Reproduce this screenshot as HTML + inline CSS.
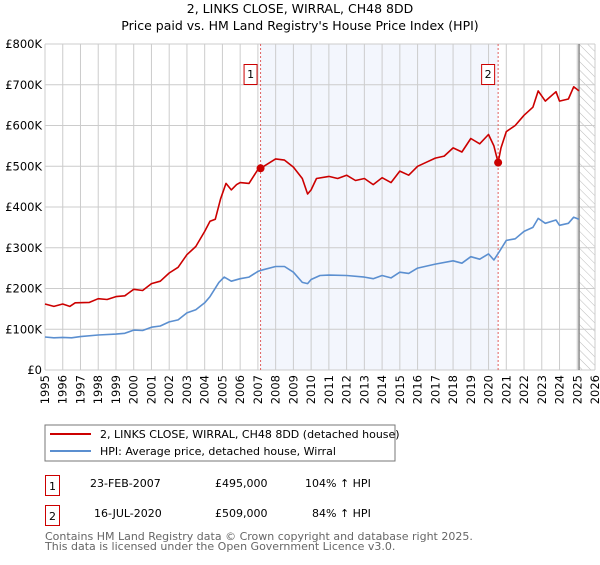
<!DOCTYPE html>
<html><head><meta charset="utf-8"><style>
body{margin:0;background:#fff;font-family:"Liberation Sans","DejaVu Sans",sans-serif;}
svg text{font-family:"DejaVu Sans","Liberation Sans",sans-serif;}
</style></head><body>
<svg id="chart" width="600" height="560" xmlns="http://www.w3.org/2000/svg">
<text x="300" y="13" font-size="12.5" text-anchor="middle">2, LINKS CLOSE, WIRRAL, CH48 8DD</text>
<text x="300" y="30" font-size="12.5" text-anchor="middle">Price paid vs. HM Land Registry's House Price Index (HPI)</text>
<defs><pattern id="hatch" width="6" height="6" patternUnits="userSpaceOnUse" patternTransform="rotate(-45)"><line x1="0" y1="0" x2="0" y2="6" stroke="#bbb" stroke-width="1"/></pattern></defs>
<g id="grid"></g><g id="marks"></g><g id="axes"></g>
<rect x="45" y="425" width="350" height="36" fill="#fff" stroke="#777"/>
<line x1="50" y1="434" x2="91" y2="434" stroke="#cc0000" stroke-width="2"/>
<text x="100" y="438" font-size="11">2, LINKS CLOSE, WIRRAL, CH48 8DD (detached house)</text>
<line x1="50" y1="451" x2="91" y2="451" stroke="#5b8fd0" stroke-width="2"/>
<text x="100" y="455" font-size="11">HPI: Average price, detached house, Wirral</text>
<g font-size="11">
<rect x="45.5" y="475.5" width="14" height="20" fill="#fff" stroke="#cc0000"/><text x="52.5" y="490" text-anchor="middle">1</text>
<text x="90" y="487">23-FEB-2007</text><text x="215" y="487">£495,000</text><text x="305" y="487">104% ↑ HPI</text></g>
<g font-size="11">
<rect x="45.5" y="505.5" width="14" height="20" fill="#fff" stroke="#cc0000"/><text x="52.5" y="520" text-anchor="middle">2</text>
<text x="94" y="517">16-JUL-2020</text><text x="215" y="517">£509,000</text><text x="312" y="517">84% ↑ HPI</text></g>
<text x="45" y="540" font-size="11" fill="#666">Contains HM Land Registry data © Crown copyright and database right 2025.</text>
<text x="45" y="550" font-size="11" fill="#666">This data is licensed under the Open Government Licence v3.0.</text>
</svg>
<script>
const yTicks=[0,100,200,300,400,500,600,700,800];
const yTickLabels=["£0","£100K","£200K","£300K","£400K","£500K","£600K","£700K","£800K"];
const xYears=[1995,1996,1997,1998,1999,2000,2001,2002,2003,2004,2005,2006,2007,2008,2009,2010,2011,2012,2013,2014,2015,2016,2017,2018,2019,2020,2021,2022,2023,2024,2025,2026];
const hpiYears=[1995,1995.5,1996,1996.5,1997,1998,1999,1999.5,2000,2000.5,2001,2001.5,2002,2002.5,2003,2003.5,2004,2004.3,2004.8,2005.1,2005.5,2006,2006.5,2007,2007.2,2008,2008.5,2009,2009.5,2009.8,2010,2010.5,2011,2012,2013,2013.5,2014,2014.5,2015,2015.5,2016,2017,2018,2018.5,2019,2019.5,2020,2020.3,2020.6,2021,2021.5,2022,2022.5,2022.8,2023.2,2023.8,2024,2024.5,2024.8,2025.1];
const hpiValues=[81,79,80,79,82,86,88,90,98,97,105,108,118,123,140,148,165,180,215,228,218,224,228,242,245,254,254,240,215,212,222,232,233,232,228,224,232,226,240,237,250,260,268,262,278,272,285,270,290,318,322,340,350,372,360,368,355,360,375,370];
const propYears=[1995,1995.5,1996,1996.4,1996.7,1997.5,1998,1998.5,1999,1999.5,2000,2000.5,2001,2001.5,2002,2002.5,2003,2003.5,2004,2004.3,2004.6,2004.9,2005.2,2005.5,2005.8,2006,2006.5,2007,2007.15,2008,2008.5,2009,2009.5,2009.8,2010,2010.3,2011,2011.5,2012,2012.5,2013,2013.5,2014,2014.5,2015,2015.5,2016,2016.5,2017,2017.5,2018,2018.5,2019,2019.5,2020,2020.3,2020.54,2020.7,2021,2021.5,2022,2022.5,2022.8,2023.2,2023.8,2024,2024.5,2024.8,2025.1];
const propValues=[162,156,162,156,165,166,175,173,180,182,198,195,212,218,238,252,283,303,340,365,370,420,458,442,455,460,458,492,495,518,515,498,470,432,442,470,475,470,478,465,470,455,472,460,488,478,500,510,520,525,545,535,568,555,578,550,509,545,585,600,625,645,685,660,683,660,665,695,685];
const saleYears=[2007.15,2020.54];
const saleValues=[495,509];
const saleLabels=["1","2"];
const X0=45,X1=595,Y0=370,Y1=44;
const xS=y=>X0+(y-1995)*(X1-X0)/31;
const yS=v=>Y0-v*(Y0-Y1)/800;
const NS="http://www.w3.org/2000/svg";
function mk(tag,attrs,parent){const e=document.createElementNS(NS,tag);for(const k in attrs)e.setAttribute(k,attrs[k]);parent.appendChild(e);return e;}
const grid=document.getElementById('grid'),marks=document.getElementById('marks'),axes=document.getElementById('axes');
let shade=mk('rect',{x:xS(saleYears[0]),y:Y1,width:xS(saleYears[1])-xS(saleYears[0]),height:Y0-Y1,fill:'#eef2fc',opacity:0.7},grid);


let hat=mk('rect',{x:xS(2025.1),y:Y1,width:X1-xS(2025.1),height:Y0-Y1,fill:'url(#hatch)'},grid);


yTicks.forEach((v,i)=>{
 mk('line',{x1:X0,x2:X1,y1:yS(v),y2:yS(v),stroke:'#ccc'},grid);
 let t=mk('text',{x:X0-3,y:yS(v)+4,'font-size':11.5,'text-anchor':'end'},axes);t.textContent=yTickLabels[i];
 
 
});
xYears.forEach(y=>{
 mk('line',{x1:xS(y),x2:xS(y),y1:Y1,y2:Y0,stroke:'#ccc'},grid);
 let t=mk('text',{x:0,y:0,'font-size':11.5,'text-anchor':'end',transform:`translate(${xS(y)+4},${Y0+5}) rotate(-90)`},axes);t.textContent=y;
 
 
});
mk('line',{x1:xS(2025.1),x2:xS(2025.1),y1:Y1,y2:Y0,stroke:'#888','stroke-width':1.5},grid);
saleYears.forEach((y,i)=>{
 mk('line',{x1:xS(y),x2:xS(y),y1:Y1,y2:Y0,stroke:'#e06060','stroke-dasharray':'2,2'},grid);
});
function path(xs,vs,color,name){
 let d=xs.map((y,i)=>(i?'L':'M')+xS(y).toFixed(1)+','+yS(vs[i]).toFixed(1)).join('');
 let p=mk('path',{d:d,fill:'none',stroke:color,'stroke-width':1.6,'stroke-linejoin':'round'},marks);
 
 
}
path(hpiYears,hpiValues,'#5b8fd0','hpi-line');
path(propYears,propValues,'#cc0000','property-line');
saleYears.forEach((y,i)=>{
 let c=mk('circle',{cx:xS(y),cy:yS(saleValues[i]),r:4,fill:'#cc0000'},marks);
 
 
 let g=mk('g',{},marks);
 
 
 mk('rect',{x:xS(y)-16.5,y:64.5,width:13,height:20,fill:'#fff',stroke:'#cc0000'},g);
 let t=mk('text',{x:xS(y)-10,y:78,'font-size':11,'text-anchor':'middle'},g);t.textContent=saleLabels[i];
});
</script>
</body></html>
